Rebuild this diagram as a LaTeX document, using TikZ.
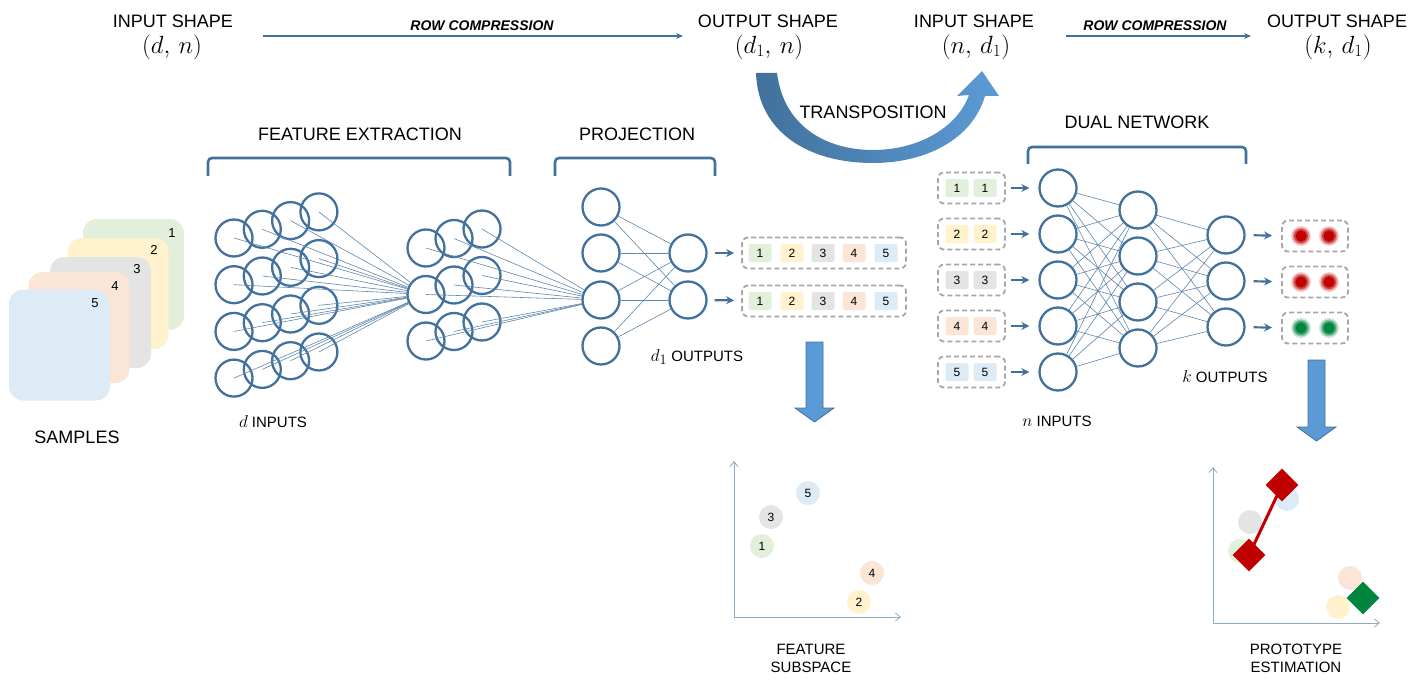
\documentclass[tikz,border=0pt]{standalone}
\usepackage{fontspec}
\setmainfont{Liberation Sans}
\usetikzlibrary{arrows.meta,shapes.geometric,calc}
\definecolor{nblue}{HTML}{41719C}
\definecolor{lblue}{HTML}{5B9BD5}
\definecolor{axisblue}{HTML}{8FA9C8}
\definecolor{cgreen}{HTML}{E2EFDA}
\definecolor{cyellow}{HTML}{FFF2CC}
\definecolor{cgray}{HTML}{E4E4E4}
\definecolor{cpeach}{HTML}{FBE5D6}
\definecolor{cblue}{HTML}{DDEBF7}
\definecolor{dred}{HTML}{C00000}
\definecolor{dgreen}{HTML}{00853E}
\definecolor{boxgray}{HTML}{A6A6A6}
\newcommand\glowdot[3]{%
  \fill[#3!20] (#1,#2) circle (10);
  \fill[#3!45] (#1,#2) circle (8.5);
  \fill[#3!75] (#1,#2) circle (7);
  \fill[#3] (#1,#2) circle (5.5);}
\begin{document}
\begin{tikzpicture}[x=1pt,y=-1pt,
  neuron/.style={circle,draw=nblue,line width=2.3pt,minimum size=37pt,inner sep=0pt},
  conn/.style={draw=nblue!85,line width=0.6pt},
  lab/.style={font=\fontsize{18}{20}\selectfont,text=black,inner sep=0pt},
  smlab/.style={font=\fontsize{15}{17}\selectfont,text=black,inner sep=0pt,align=center},
  mathlab/.style={font=\fontsize{24}{26}\selectfont,inner sep=0pt},
  rowlab/.style={font=\fontsize{14}{16}\selectfont\bfseries\itshape,inner sep=0pt},
  sample/.style={rounded corners=14pt,minimum width=101pt,minimum height=111pt,inner sep=0pt},
  num/.style={font=\fontsize{13}{15}\selectfont,inner sep=0pt},
  tile/.style={rounded corners=2pt,minimum width=23pt,minimum height=18pt,inner sep=0pt,font=\fontsize{12}{14}\selectfont},
  dbox/.style={draw=boxgray,dashed,dash pattern=on 5pt off 3pt,line width=1.8pt,rounded corners=6pt,minimum height=31pt,inner sep=0pt},
  arr/.style={-{Stealth[length=8pt,width=8pt]},draw=nblue,line width=2.2pt},
  toparr/.style={-{Stealth[length=7pt,width=6pt]},draw=nblue,line width=1.6pt},
  bracket/.style={draw=nblue,line width=2.6pt,rounded corners=4pt},
  axis/.style={draw=axisblue,line width=0.8pt,-{Straight Barb[length=5pt,width=8pt]}},
  pt/.style={circle,minimum size=24pt,inner sep=0pt,font=\fontsize{12}{14}\selectfont},
  blockarr/.style={fill=lblue,draw=nblue,line width=0.8pt},
  diam/.style={diamond,minimum size=33pt,inner sep=0pt}
]
\useasboundingbox (0,0) rectangle (1414,690);

% ---------- top row ----------
\node[lab] (is1) at (173,21) {INPUT SHAPE};
\node[mathlab] (ms1) at (172,47) {$(d,\,n)$};
\node[lab] (os1) at (768,21) {OUTPUT SHAPE};
\node[mathlab] (ms2) at (769,47) {$(d_1,\,n)$};
\node[lab] (is2) at (974,21) {INPUT SHAPE};
\node[mathlab] (ms3) at (976,47) {$(n,\,d_1)$};
\node[lab] (os2) at (1337,21) {OUTPUT SHAPE};
\node[mathlab] (ms4) at (1338,47) {$(k,\,d_1)$};
\coordinate (ra1) at (263,36);
\coordinate (rb1) at (683,36);
\coordinate (ra2) at (1066,36);
\coordinate (rb2) at (1251,36);
\draw[toparr] (ra1) -- (rb1);
\draw[toparr] (ra2) -- (rb2);
\node[rowlab] (rc1) at (482,26) {ROW COMPRESSION};
\node[rowlab] (rc2) at (1155,26) {ROW COMPRESSION};

% ---------- transposition arrow ----------
\shade[left color=nblue,right color=lblue]
  (756,73) -- (777,73)
  .. controls (784,128) and (828,150) .. (873,150)
  .. controls (918,150) and (957,128) .. (969,95)
  -- (957,96) -- (982,71) -- (999,96) -- (985,96)
  .. controls (972,140) and (925,163) .. (873,163)
  .. controls (808,163) and (758,132) .. (756,73) -- cycle;
\node[lab] (tr) at (873,112) {TRANSPOSITION};

% ---------- brackets and headings ----------
\node[lab] (fe) at (360,134) {FEATURE EXTRACTION};
\node[lab] (pr) at (637,134) {PROJECTION};
\node[lab] (dn) at (1137,122) {DUAL NETWORK};
\draw[bracket] (208,176) -- (208,158) -- (510,158) -- (510,176);
\draw[bracket] (555,176) -- (555,158) -- (715,158) -- (715,176);
\draw[bracket] (1028,164) -- (1028,147) -- (1246,147) -- (1246,164);

% ---------- samples ----------
\node[sample,fill=cgreen] (s1) at (133.5,274.5) {};
\node[num] at (172,233) {1};
\node[sample,fill=cyellow] (s2) at (118,293.5) {};
\node[num] at (154,250) {2};
\node[sample,fill=cgray] (s3) at (100.5,312.5) {};
\node[num] at (137,269) {3};
\node[sample,fill=cpeach] (s4) at (79,327.5) {};
\node[num] at (115,286) {4};
\node[sample,fill=cblue] (s5) at (59.5,345) {};
\node[num] at (95,303) {5};
\node[lab] (smp) at (77,437) {SAMPLES};

% ---------- feature extraction ----------
\foreach \r in {0,...,3}{\foreach \c in {0,...,3}{
  \node[neuron] (i\r\c) at ({234+28.3*\c},{238+46.7*\r-8.7*\c}) {};}}
\foreach \r in {0,...,2}{\foreach \c in {0,...,2}{
  \node[neuron] (h\r\c) at ({426+28*\c},{248+46.5*\r-9.5*\c}) {};}}
\node[neuron] (p1) at (601,207) {};
\node[neuron] (p2) at (601,253) {};
\node[neuron] (p3) at (601,300) {};
\node[neuron] (p4) at (601,346) {};
\node[neuron] (o1) at (688,253) {};
\node[neuron] (o2) at (688,300) {};
\foreach \r in {0,...,3}{\foreach \c in {0,...,3}{
  \draw[conn] (i\r\c.center) -- (h10);}}
\foreach \r in {0,...,2}{\foreach \c in {0,...,2}{
  \draw[conn] (h\r\c.center) -- (p3);}}
\foreach \a in {1,...,4}{\foreach \b in {1,2}{
  \draw[conn] (p\a) -- (o\b);}}
\node[smlab] (din) at (273,422) {{\fontsize{18}{20}\selectfont$d$} INPUTS};
\node[smlab] (dout) at (697,357) {{\fontsize{19}{20}\selectfont$d_1$} OUTPUTS};

% projection output boxes
\foreach \k/\yy in {1/253,2/301}{
  \node[dbox,minimum width=164pt] (b\k) at (824,\yy) {};
  \node[tile,fill=cgreen] (t\k a) at (760,\yy) {1};
  \node[tile,fill=cyellow] (t\k b) at (792,\yy) {2};
  \node[tile,fill=cgray] (t\k c) at (823,\yy) {3};
  \node[tile,fill=cpeach] (t\k d) at (854,\yy) {4};
  \node[tile,fill=cblue] (t\k e) at (886,\yy) {5};
}
\draw[arr,shorten <=7pt,shorten >=7pt] (o1) -- (b1);
\draw[arr,shorten <=7pt,shorten >=7pt] (o2) -- (b2);

% block arrow 1
\draw[blockarr] (806,342) -- (823,342) -- (823,408) -- (834,408) -- (814.5,422) -- (795,408) -- (806,408) -- cycle;

% feature subspace plot
\coordinate (fo) at (734,617);
\coordinate (fy) at (734,461);
\coordinate (fx) at (901,617);
\draw[axis] (fo) -- (fy);
\draw[axis] (fo) -- (fx);
\node[pt,fill=cblue] (f5) at (808,493) {5};
\node[pt,fill=cgray] (f3) at (771,517) {3};
\node[pt,fill=cgreen] (f1) at (762,546) {1};
\node[pt,fill=cpeach] (f4) at (872,573) {4};
\node[pt,fill=cyellow] (f2) at (859,602) {2};
\node[smlab] (fs) at (811,658) {FEATURE\\[1pt]SUBSPACE};

% ---------- dual network ----------
\foreach \k/\t/\col in {1/1/cgreen,2/2/cyellow,3/3/cgray,4/4/cpeach,5/5/cblue}{
  \pgfmathsetmacro\yy{188+46*(\k-1)}
  \node[dbox,minimum width=67pt] (db\k) at (971.5,\yy) {};
  \node[tile,fill=\col] (dt\k a) at (957,\yy) {\t};
  \node[tile,fill=\col] (dt\k b) at (985,\yy) {\t};
  \node[neuron] (di\k) at (1058,\yy) {};
  \draw[arr,shorten <=5pt,shorten >=9pt] (db\k) -- (di\k);
}
\foreach \k in {1,...,4}{
  \node[neuron] (dh\k) at (1138,{210+46*(\k-1)}) {};}
\foreach \k in {1,...,3}{
  \node[neuron] (do\k) at (1226,{235+46*(\k-1)}) {};
  \node[dbox,minimum width=66pt] (ob\k) at (1315,{236+46*(\k-1)}) {};
  \draw[arr,shorten <=8pt,shorten >=9pt] (do\k) -- (ob\k);}
\foreach \a in {1,...,5}{\foreach \b in {1,...,4}{
  \draw[conn] (di\a) -- (dh\b);}}
\foreach \a in {1,...,4}{\foreach \b in {1,...,3}{
  \draw[conn] (dh\a) -- (do\b);}}
\glowdot{1301}{236}{dred}
\glowdot{1329}{236}{dred}
\glowdot{1301}{282}{dred}
\glowdot{1329}{282}{dred}
\glowdot{1301}{328}{dgreen}
\glowdot{1329}{328}{dgreen}
\node[smlab] (nin) at (1057,421) {{\fontsize{18}{20}\selectfont$n$} INPUTS};
\node[smlab] (kout) at (1225,377) {{\fontsize{18}{20}\selectfont$k$} OUTPUTS};

% block arrow 2
\draw[blockarr] (1308,360) -- (1325,360) -- (1325,427) -- (1336,427) -- (1316.5,441) -- (1297,427) -- (1308,427) -- cycle;

% prototype estimation plot
\coordinate (po) at (1213,623);
\coordinate (py) at (1213,467);
\coordinate (px) at (1380,623);
\draw[axis] (po) -- (py);
\draw[axis] (po) -- (px);
\node[pt,fill=cblue] (q5) at (1287,499) {};
\node[pt,fill=cgray] (q3) at (1250,522) {};
\node[pt,fill=cgreen] (q1) at (1240,551) {};
\node[pt,fill=cpeach] (q4) at (1350,578) {};
\node[pt,fill=cyellow] (q2) at (1338,607) {};
\node[diam,fill=dred] (r1) at (1282,485) {};
\node[diam,fill=dred] (r2) at (1249,555) {};
\draw[dred,line width=3pt] (r1.center) -- (r2.center);
\node[diam,fill=dgreen] (g1) at (1363,598) {};
\node[smlab] (pe) at (1296,658) {PROTOTYPE\\[1pt]ESTIMATION};
\end{tikzpicture}
\end{document}
